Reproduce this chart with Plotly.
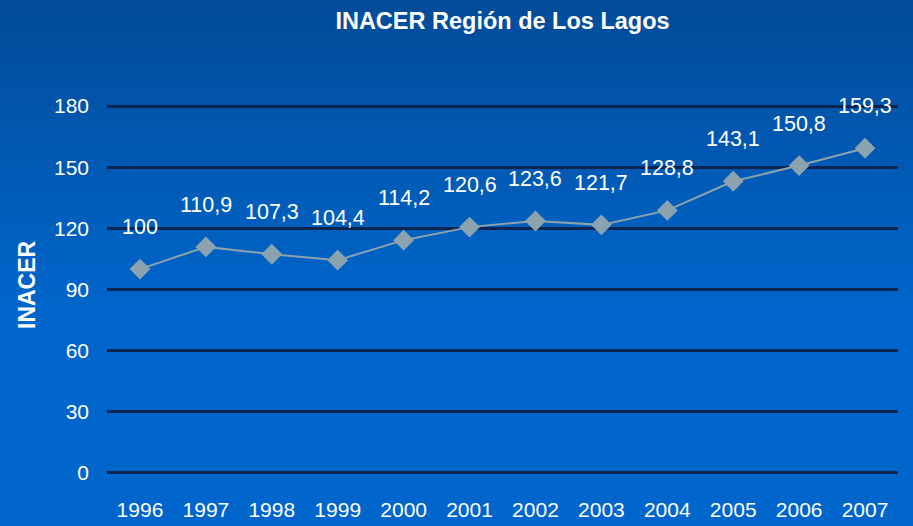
import plotly.graph_objects as go

years = [1996, 1997, 1998, 1999, 2000, 2001, 2002, 2003, 2004, 2005, 2006, 2007]
year_labels = ["1996", "1997", "1998", "1999", "2000", "2001", "2002", "2003", "2004", "2005", "2006", "2007"]
inacer = [100, 110.9, 107.3, 104.4, 114.2, 120.6, 123.6, 121.7, 128.8, 143.1, 150.8, 159.3]
labels = ["100", "110,9", "107,3", "104,4", "114,2", "120,6", "123,6", "121,7", "128,8", "143,1", "150,8", "159,3"]
y_ticks = [0, 30, 60, 90, 120, 150, 180]

FONT = "Liberation Sans, Arial, sans-serif"

W, H = 913.0, 526.0
L_M, R_M, T_M, B_M = 107, 15, 105, 52
PW, PH = W - L_M - R_M, H - T_M - B_M

fig = go.Figure()
fig.add_trace(go.Scatter(
    x=years, y=inacer, mode="lines+markers",
    line=dict(color="#8ba3ae", width=2),
    marker=dict(symbol="diamond", size=16, color="#8ba3ae"),
    cliponaxis=False, showlegend=False, hoverinfo="skip",
))

annotations = [
    dict(x=x, y=y, text=t, xref="x", yref="y", showarrow=False, yshift=42,
         font=dict(family=FONT, size=21.5, color="white"))
    for x, y, t in zip(years, inacer, labels)
]
annotations.append(dict(
    text="<b>INACER</b>", xref="paper", yref="paper",
    x=(27 - L_M) / PW, y=(H - B_M - 285) / PH, textangle=-90,
    showarrow=False, xanchor="center", yanchor="middle",
    font=dict(family=FONT, size=23, color="white")))

# vertical gradient background
shapes = []
n = 40
top = (0x02, 0x4c, 0x9a)
bot = (0x00, 0x66, 0xcc)
for i in range(n):
    f = i / (n - 1)
    f2 = min(1.0, f / 0.6)
    c = tuple(int(round(top[k] + (bot[k] - top[k]) * f2)) for k in range(3))
    y0px = H * i / n - (2 if i == 0 else 0)
    y1px = H * (i + 1) / n + (3 if i == n - 1 else 1)
    p1 = (H - B_M - y0px) / PH
    p0 = (H - B_M - y1px) / PH
    shapes.append(dict(type="rect", xref="paper", yref="paper", x0=-0.3, x1=1.2,
                       y0=p0, y1=p1, fillcolor="rgb(%d,%d,%d)" % c,
                       line=dict(width=0), layer="below"))

fig.update_layout(
    width=913, height=526,
    margin=dict(l=L_M, r=R_M, t=T_M, b=B_M, autoexpand=False),
    paper_bgcolor="#0066cc", plot_bgcolor="rgba(0,0,0,0)",
    title=dict(text="<b>INACER Región de Los Lagos</b>", x=0.5, xanchor="center",
               y=1 - 21 / H, yanchor="middle", xref="paper",
               font=dict(family=FONT, size=23.5, color="white")),
    xaxis=dict(range=[1995.5, 2007.5], tickvals=years, ticktext=year_labels,
               showgrid=False, showline=False, zeroline=False, automargin=False,
               ticks="", tickfont=dict(family=FONT, size=21, color="white"),
               ticklabelstandoff=21),
    yaxis=dict(range=[-0.5, 180.5], tickvals=y_ticks, showgrid=True, gridcolor="#0a2550",
               gridwidth=2.5, zeroline=False, showline=False, ticks="", automargin=False,
               tickfont=dict(family=FONT, size=21, color="white"),
               ticklabelstandoff=17),
    annotations=annotations,
    shapes=shapes,
)

fig.write_html("out.html", config={"displayModeBar": False},
               post_script="document.body.style.margin='0px';")
